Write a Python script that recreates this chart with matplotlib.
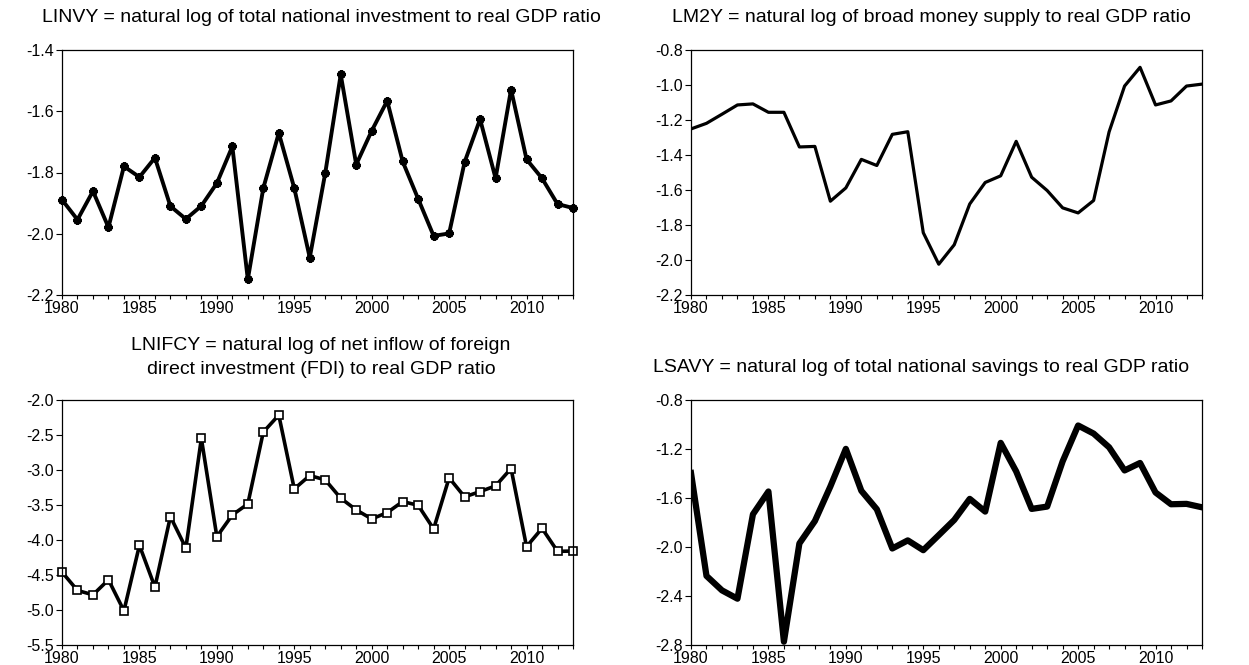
import matplotlib
matplotlib.use('Agg')
import matplotlib.pyplot as plt
from matplotlib.ticker import MultipleLocator, FormatStrFormatter

plt.rcParams['font.family'] = ['Liberation Sans', 'DejaVu Sans']

years = list(range(1980, 2014))

# natural log of total national investment to real GDP ratio
linvy = [-1.889, -1.954, -1.861, -1.979, -1.780, -1.815, -1.752, -1.910, -1.952, -1.909,
         -1.835, -1.715, -2.149, -1.851, -1.671, -1.851, -2.078, -1.802, -1.480, -1.774,
         -1.664, -1.566, -1.764, -1.886, -2.007, -1.999, -1.766, -1.626, -1.819, -1.529,
         -1.757, -1.819, -1.903, -1.916]

# natural log of broad money supply to real GDP ratio
lm2y = [-1.251, -1.219, -1.167, -1.114, -1.108, -1.156, -1.156, -1.354, -1.351, -1.664,
        -1.588, -1.425, -1.460, -1.282, -1.267, -1.844, -2.024, -1.913, -1.680, -1.557,
        -1.519, -1.322, -1.527, -1.603, -1.702, -1.731, -1.660, -1.268, -1.006, -0.899,
        -1.114, -1.091, -1.006, -0.995]

# natural log of net FDI inflow to real GDP ratio
lnifcy = [-4.458, -4.721, -4.783, -4.568, -5.012, -4.076, -4.673, -3.666, -4.115, -2.549,
          -3.952, -3.642, -3.485, -2.458, -2.215, -3.270, -3.079, -3.141, -3.403, -3.570,
          -3.699, -3.609, -3.451, -3.504, -3.842, -3.112, -3.384, -3.308, -3.227, -2.979,
          -4.095, -3.833, -4.162, -4.158]

# natural log of total national savings to real GDP ratio
lsavy = [-1.396, -2.236, -2.354, -2.422, -1.733, -1.547, -2.773, -1.971, -1.788, -1.506,
         -1.199, -1.541, -1.692, -2.012, -1.946, -2.026, -1.903, -1.779, -1.607, -1.711,
         -1.150, -1.383, -1.689, -1.670, -1.301, -1.008, -1.074, -1.186, -1.375, -1.314,
         -1.555, -1.651, -1.648, -1.676]

W, H = 1249, 665


def px_rect(left, top, right, bottom):
    # convert pixel box to figure fraction
    return [left / W, 1 - bottom / H, (right - left) / W, (bottom - top) / H]


def style_axes(ax, ymin, ymax, ystep):
    ax.set_xlim(1980, 2013)
    ax.set_ylim(ymin, ymax)
    ax.xaxis.set_major_locator(MultipleLocator(5))
    ax.xaxis.set_minor_locator(MultipleLocator(1))
    ax.yaxis.set_major_locator(MultipleLocator(ystep))
    ax.yaxis.set_major_formatter(FormatStrFormatter('%.1f'))
    ax.tick_params(axis='both', which='both', direction='out', width=0.8,
                   labelsize=11.5, top=False, right=False)
    ax.tick_params(axis='x', which='both', length=3, pad=1.5)
    ax.tick_params(axis='y', which='major', length=4.5, pad=1.5)
    for s in ax.spines.values():
        s.set_linewidth(0.9)


fig = plt.figure(figsize=(W / 100, H / 100), dpi=100)

ax1 = fig.add_axes(px_rect(62, 50, 573, 295))
ax1.plot(years, linvy, color='black', linewidth=2.8,
         marker=(8, 2, 0), markersize=6, markeredgewidth=1.8, clip_on=False)
style_axes(ax1, -2.2, -1.4, 0.2)

ax2 = fig.add_axes(px_rect(691, 50, 1202, 295))
ax2.plot(years, lm2y, color='black', linewidth=2.3)
style_axes(ax2, -2.2, -0.8, 0.2)

ax3 = fig.add_axes(px_rect(62, 400, 573, 645))
ax3.plot(years, lnifcy, color='black', linewidth=2.6, marker='s', markersize=5.5,
         markerfacecolor='white', markeredgecolor='black', markeredgewidth=1.2,
         clip_on=False)
style_axes(ax3, -5.5, -2.0, 0.5)

ax4 = fig.add_axes(px_rect(691, 400, 1202, 645))
ax4.plot(years, lsavy, color='black', linewidth=4.5)
style_axes(ax4, -2.8, -0.8, 0.4)

tsize = 14
fig.text(321 / W, 1 - 18 / H,
         'LINVY = natural log of total national investment to real GDP ratio',
         ha='center', va='center', fontsize=tsize)
fig.text(931 / W, 1 - 18 / H,
         'LM2Y = natural log of broad money supply to real GDP ratio',
         ha='center', va='center', fontsize=tsize)
fig.text(321 / W, 1 - 346 / H,
         'LNIFCY = natural log of net inflow of foreign',
         ha='center', va='center', fontsize=tsize)
fig.text(321 / W, 1 - 369 / H,
         'direct investment (FDI) to real GDP ratio',
         ha='center', va='center', fontsize=tsize)
fig.text(653 / W, 1 - 368 / H,
         'LSAVY = natural log of total national savings to real GDP ratio',
         ha='left', va='center', fontsize=tsize)

fig.savefig('out.png', dpi=100)
